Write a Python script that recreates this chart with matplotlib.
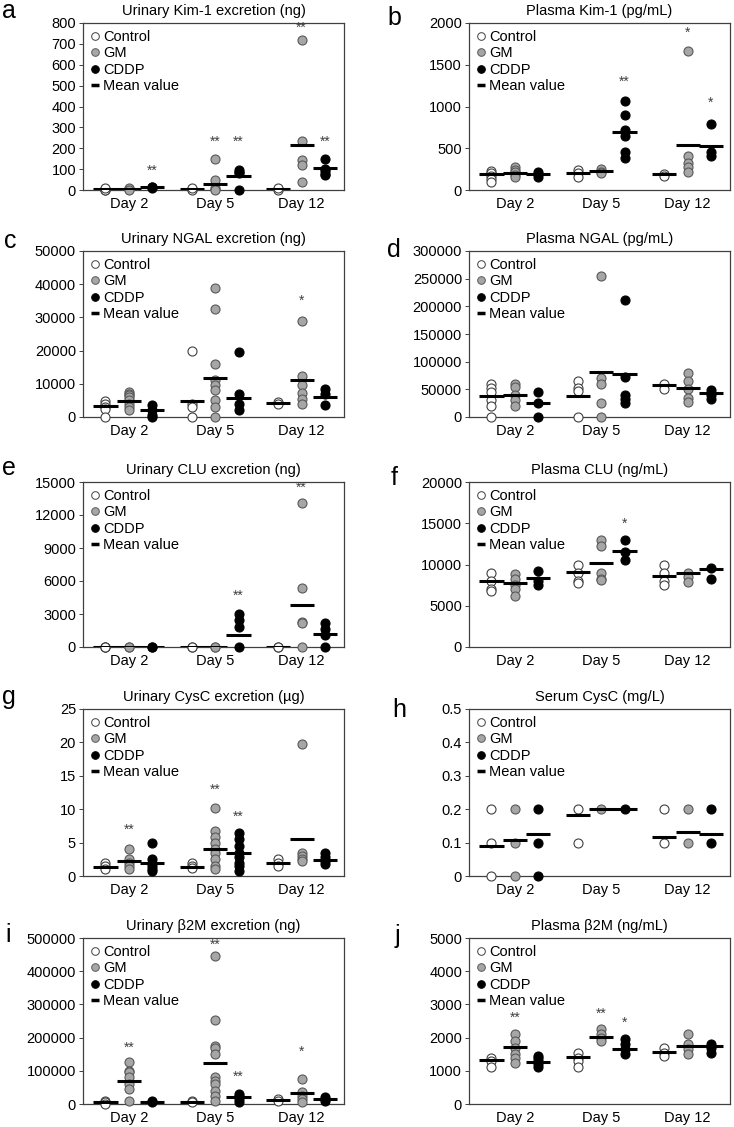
import matplotlib
matplotlib.use('Agg')
import matplotlib.pyplot as plt
from matplotlib.lines import Line2D

plt.rcParams['font.family'] = ['Liberation Sans', 'DejaVu Sans']

days = ['Day 2', 'Day 5', 'Day 12']
groups = ['Control', 'GM', 'CDDP']

# values per group: [Day 2, Day 5, Day 12]; means as [ctrl, gm, cddp] x day
# stars: (day index, group index, text, y)
a_ctrl = [[5, 3, 2, 0, 8], [5, 3, 0, 8], [5, 2, 8]]
a_gm = [[5, 3, 8, 0], [150, 50, 10, 5, 0], [720, 235, 145, 120, 40]]
a_cddp = [[15, 10, 12], [95, 85, 80, 0], [150, 100, 90, 75, 70]]
a_mean = [[5, 5, 5], [5, 29, 215], [12, 66, 106]]
a_stars = [(0, 2, '**', 90), (1, 1, '**', 231), (1, 2, '**', 231), (2, 1, '**', 777), (2, 2, '**', 231)]
a_yticks = [0, 100, 200, 300, 400, 500, 600, 700, 800]

b_ctrl = [[230, 200, 170, 130, 100], [240, 200, 150], [190, 170]]
b_gm = [[280, 240, 210, 180, 150], [250, 220, 200], [1670, 410, 320, 280, 210]]
b_cddp = [[220, 190, 160], [1060, 900, 720, 650, 450, 380], [790, 460, 410]]
b_mean = [[190, 202, 194], [206, 222, 544], [190, 698, 524]]
b_stars = [(1, 2, '**', 1302), (2, 1, '*', 1885), (2, 2, '*', 1048)]
b_yticks = [0, 500, 1000, 1500, 2000]

c_ctrl = [[4800, 4000, 3000, 2500, 0], [20000, 4000, 3000, 0], [4500, 4000]]
c_gm = [[7500, 7000, 6500, 6000, 5000, 4000, 3000, 2000],
        [38900, 32600, 15900, 11000, 9500, 8000, 5200, 3000, 0],
        [29000, 12500, 9500, 7200, 5500, 3800]]
c_cddp = [[3500, 2000, 500, 0], [19500, 7000, 4000, 2000], [8500, 7000, 3500]]
c_mean = [[3300, 4940, 4130], [4740, 11800, 11190], [2120, 5750, 6150]]
c_stars = [(2, 1, '*', 34900)]
c_yticks = [0, 10000, 20000, 30000, 40000, 50000]

d_ctrl = [[60000, 52000, 45000, 30000, 20000, 0], [65000, 52000, 47000, 0], [60000, 50000]]
d_gm = [[60000, 55000, 40000, 30000, 20000], [255000, 70000, 60000, 25000, 0],
        [80000, 65000, 50000, 35000, 28000]]
d_cddp = [[45000, 25000, 0], [212000, 72000, 40000, 32000, 25000], [48000, 40000, 33000]]
d_mean = [[37500, 37500, 57700], [40500, 81500, 51800], [25000, 77400, 43500]]
d_stars = []
d_yticks = [0, 50000, 100000, 150000, 200000, 250000, 300000]

e_ctrl = [[0, 0, 0], [0, 0], [0, 0]]
e_gm = [[0, 0], [0, 0], [13100, 5400, 2300, 2200, 0]]
e_cddp = [[0, 0], [3000, 2500, 1800, 0], [2200, 1600, 1100, 0]]
e_mean = [[0, 0, 0], [0, 0, 3850], [0, 1120, 1210]]
e_stars = [(1, 2, '**', 4700), (2, 1, '**', 14450)]
e_yticks = [0, 3000, 6000, 9000, 12000, 15000]

f_ctrl = [[9000, 8000, 7000, 6800], [10000, 9000, 8000, 7800], [10000, 9000, 8000, 7500]]
f_gm = [[8800, 8300, 7500, 7000, 6200], [13000, 12300, 9000, 8300, 8100], [9000, 8500, 7900]]
f_cddp = [[9200, 8000, 7500], [13000, 11500, 10500], [9600, 8300]]
f_mean = [[7940, 9060, 8580], [7780, 10220, 8940], [8340, 11580, 9460]]
f_stars = [(1, 2, '*', 14970)]
f_yticks = [0, 5000, 10000, 15000, 20000]

g_ctrl = [[2, 1.5, 1], [2, 1.5, 1.2], [2.5, 2, 1.5]]
g_gm = [[4, 2.5, 2, 1.5, 1], [10.2, 6.8, 5.8, 5, 4, 3.5, 2.5, 1.5, 1], [19.8, 3.5, 3, 2.5, 2.2]]
g_cddp = [[5, 2.5, 2, 1.5, 1, 0.7], [6.5, 5.5, 4.5, 3.5, 2.8, 2, 1.5, 0.8], [3.5, 2.8, 2.2, 1.8]]
g_mean = [[1.3, 1.35, 2.0], [2.3, 4.0, 5.5], [2.0, 3.5, 2.4]]
g_stars = [(0, 1, '**', 6.9), (1, 1, '**', 12.9), (1, 2, '**', 8.9)]
g_yticks = [0, 5, 10, 15, 20, 25]

h_ctrl = [[0.2, 0.1, 0], [0.2, 0.1], [0.2, 0.1]]
h_gm = [[0.2, 0.1, 0], [0.2], [0.2, 0.1]]
h_cddp = [[0.2, 0.1, 0], [0.2], [0.2, 0.1]]
h_mean = [[0.09, 0.183, 0.117], [0.107, 0.2, 0.133], [0.125, 0.2, 0.125]]
h_stars = []
h_yticks = [0, 0.1, 0.2, 0.3, 0.4, 0.5]

i_ctrl = [[10000, 5000, 0], [8000, 5000], [15000, 10000]]
i_gm = [[128000, 100000, 95000, 80000, 60000, 45000, 10000],
        [445000, 252000, 175000, 170000, 150000, 80000, 70000, 60000, 40000, 25000, 10000],
        [75000, 35000, 25000, 15000, 5000]]
i_cddp = [[8000, 5000], [30000, 25000, 15000, 5000], [20000, 15000, 10000]]
i_mean = [[6000, 6000, 12000], [69000, 125000, 32500], [6000, 21000, 15000]]
i_stars = [(0, 1, '**', 170000), (1, 1, '**', 480000), (1, 2, '**', 83000), (2, 1, '*', 156000)]
i_yticks = [0, 100000, 200000, 300000, 400000, 500000]

j_ctrl = [[1400, 1300, 1100], [1550, 1400, 1300, 1100], [1700, 1550, 1450]]
j_gm = [[2100, 1900, 1700, 1500, 1400, 1250], [2250, 2100, 2000, 1900], [2100, 1800, 1650, 1500]]
j_cddp = [[1450, 1400, 1300, 1200, 1100], [1950, 1800, 1650, 1500], [1800, 1700, 1550]]
j_mean = [[1335, 1414, 1554], [1713, 2012, 1733], [1275, 1653, 1733]]
j_stars = [(0, 1, '**', 2590), (1, 1, '**', 2709), (1, 2, '*', 2460)]
j_yticks = [0, 1000, 2000, 3000, 4000, 5000]

panels = [
    ('a', 'Urinary Kim-1 excretion (ng)', [a_ctrl, a_gm, a_cddp], a_mean, a_stars, a_yticks),
    ('b', 'Plasma Kim-1 (pg/mL)', [b_ctrl, b_gm, b_cddp], b_mean, b_stars, b_yticks),
    ('c', 'Urinary NGAL excretion (ng)', [c_ctrl, c_gm, c_cddp], c_mean, c_stars, c_yticks),
    ('d', 'Plasma NGAL (pg/mL)', [d_ctrl, d_gm, d_cddp], d_mean, d_stars, d_yticks),
    ('e', 'Urinary CLU excretion (ng)', [e_ctrl, e_gm, e_cddp], e_mean, e_stars, e_yticks),
    ('f', 'Plasma CLU (ng/mL)', [f_ctrl, f_gm, f_cddp], f_mean, f_stars, f_yticks),
    ('g', 'Urinary CysC excretion (\u00b5g)', [g_ctrl, g_gm, g_cddp], g_mean, g_stars, g_yticks),
    ('h', 'Serum CysC (mg/L)', [h_ctrl, h_gm, h_cddp], h_mean, h_stars, h_yticks),
    ('i', 'Urinary \u03b22M excretion (ng)', [i_ctrl, i_gm, i_cddp], i_mean, i_stars, i_yticks),
    ('j', 'Plasma \u03b22M (ng/mL)', [j_ctrl, j_gm, j_cddp], j_mean, j_stars, j_yticks),
]

face = ['white', '#a6a6a6', 'black']
edge = ['#404040', '#595959', 'black']
offsets = [-0.27, 0.0, 0.27]
half = 0.14

W, H = 734, 1127
col_left = [83, 469]
ax_w = 261
row_top = [23, 251, 482, 709, 938]
row_bot = [190, 417, 647, 876, 1104]
letter_xy = [(2, 18), (387, 25), (4, 248), (387, 257), (2, 475),
             (391, 485), (2, 704), (392, 717), (5, 942), (395, 943)]

fig = plt.figure(figsize=(W / 100, H / 100), dpi=100)

for k, (letter, title, series, means, stars, yticks) in enumerate(panels):
    r, c = divmod(k, 2)
    ax = fig.add_axes([col_left[c] / W, 1 - row_bot[r] / H, ax_w / W,
                       (row_bot[r] - row_top[r]) / H])
    for g in range(3):
        for d in range(3):
            x = d + 1 + offsets[g]
            vals = series[g][d]
            ax.plot([x] * len(vals), vals, 'o', ms=6.5, mfc=face[g], mec=edge[g],
                    mew=0.8, clip_on=False, zorder=3)
            ax.hlines(means[g][d], x - half, x + half, color='black', lw=2.2, zorder=4)
    for d, g, txt, y in stars:
        ax.text(d + 1 + offsets[g], y, txt, ha='center', va='center', fontsize=10,
                color='#404040')
    ax.set_xlim(0.47, 3.49)
    ax.set_ylim(yticks[0], yticks[-1])
    ax.set_xticks([1, 2, 3])
    ax.set_xticklabels(days, fontsize=10.5)
    ax.set_yticks(yticks)
    ax.set_yticklabels(['%g' % t for t in yticks], fontsize=10.5)
    ax.tick_params(axis='x', length=0, pad=5)
    ax.tick_params(axis='y', direction='out', length=3, width=0.7, pad=2, color='#404040')
    for s in ax.spines.values():
        s.set_color('#404040')
        s.set_linewidth(0.9)
    ax.set_title(title, fontsize=10.5, pad=6)

    handles = [Line2D([], [], ls='none', marker='o', ms=5.5, mfc=face[i], mec=edge[i], mew=0.7)
               for i in range(3)]
    handles.append(Line2D([], [], ls='none', marker='_', ms=6, mew=2.5, color='black'))
    ax.legend(handles, groups + ['Mean value'], loc='upper left', frameon=False, fontsize=10.5,
              handlelength=0.7, handletextpad=0.2, labelspacing=0.15,
              borderaxespad=0.3, borderpad=0.2)

    lx, ly = letter_xy[k]
    fig.text(lx / W, 1 - ly / H, letter, fontsize=18, ha='left', va='baseline')

fig.savefig('out.png', dpi=100)
